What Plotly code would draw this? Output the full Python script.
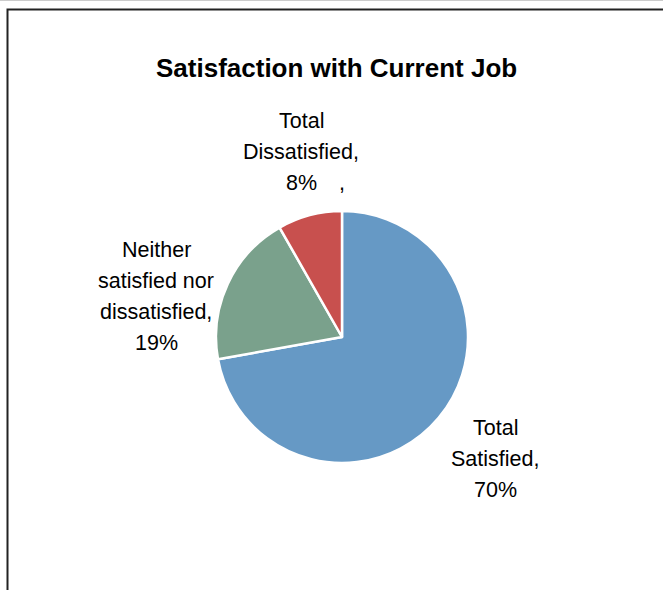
import plotly.graph_objects as go

# Survey results: share of respondents by satisfaction with their current job
categories = ["Total Satisfied", "Neither satisfied nor dissatisfied", "Total Dissatisfied"]
values = [70, 19, 8]
colors = ["#6699C5", "#7AA18C", "#C8504E"]

# Wrapped category names for the data labels (the value line is appended below)
name_lines = [
    ["Total", "Satisfied,"],
    ["Neither", "satisfied nor", "dissatisfied,"],
    ["Total", "Dissatisfied,"],
]
# Label anchor (pixel x centre, pixel y of first line) for each category
label_pos = [(495, 428), (156, 250), (301, 121)]

W, H = 663, 590
cx, cy, r = 342, 337, 126
LINE = 31
FONT = "Liberation Sans, Arial, sans-serif"

fig = go.Figure(
    go.Pie(
        labels=categories,
        values=values,
        sort=False,
        direction="clockwise",
        rotation=0,
        marker=dict(colors=colors, line=dict(color="white", width=2.5)),
        textinfo="none",
        hoverinfo="label+value",
        showlegend=False,
        domain=dict(
            x=[(cx - r) / W, (cx + r) / W],
            y=[1 - (cy + r) / H, 1 - (cy - r) / H],
        ),
    )
)

annotations = []
for lines, v, (x, y0) in zip(name_lines, values, label_pos):
    for i, t in enumerate(lines + [f"{v}%"]):
        annotations.append(dict(
            x=x / W, y=1 - (y0 + i * LINE) / H, xref="paper", yref="paper",
            text=t, showarrow=False, xanchor="center", yanchor="middle",
            font=dict(family=FONT, size=21.5, color="#000000"),
        ))

# Empty trailing category label (only its separator shows)
annotations.append(dict(
    x=cx / W, y=1 - 183 / H, xref="paper", yref="paper", text=",",
    showarrow=False, xanchor="center", yanchor="middle",
    font=dict(family=FONT, size=21.5, color="#000000"),
))

# Chart title
annotations.append(dict(
    x=336.5 / W, y=1 - 68 / H, xref="paper", yref="paper",
    text="<b>Satisfaction with Current Job</b>", showarrow=False,
    xanchor="center", yanchor="middle",
    font=dict(family=FONT, size=26, color="#000000"),
))

shapes = [
    # chart area frame, running off the right and bottom edges
    dict(type="rect", xref="paper", yref="paper",
         x0=7.5 / W, y0=1 - 9.5 / H, x1=1.2, y1=-0.2,
         line=dict(color="#222222", width=2)),
    dict(type="line", xref="paper", yref="paper",
         x0=0, x1=1, y0=1 - 0.5 / H, y1=1 - 0.5 / H,
         line=dict(color="#cccccc", width=1)),
]

fig.update_layout(
    width=W, height=H,
    margin=dict(l=0, r=0, t=0, b=0),
    paper_bgcolor="white", plot_bgcolor="white",
    annotations=annotations, shapes=shapes,
)

fig.write_html("out.html")
